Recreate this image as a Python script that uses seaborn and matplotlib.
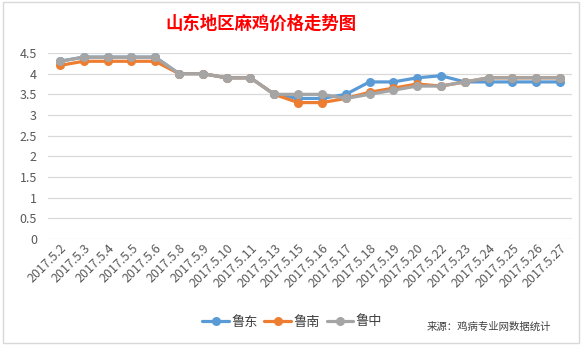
import matplotlib
matplotlib.use("Agg")
import matplotlib.pyplot as plt
import seaborn as sns
import pandas as pd
from matplotlib.patches import Rectangle

dates = ["2017.5.2", "2017.5.3", "2017.5.4", "2017.5.5", "2017.5.6", "2017.5.8",
         "2017.5.9", "2017.5.10", "2017.5.11", "2017.5.13", "2017.5.15", "2017.5.16",
         "2017.5.17", "2017.5.18", "2017.5.19", "2017.5.20", "2017.5.22", "2017.5.23",
         "2017.5.24", "2017.5.25", "2017.5.26", "2017.5.27"]
ludong = [4.3, 4.4, 4.4, 4.4, 4.4, 4.0, 4.0, 3.9, 3.9, 3.5, 3.4, 3.4, 3.5, 3.8,
          3.8, 3.9, 3.95, 3.8, 3.8, 3.8, 3.8, 3.8]
lunan = [4.2, 4.3, 4.3, 4.3, 4.3, 4.0, 4.0, 3.9, 3.9, 3.5, 3.3, 3.3, 3.4, 3.55,
         3.65, 3.75, 3.7, 3.8, 3.9, 3.9, 3.9, 3.9]
luzhong = [4.3, 4.4, 4.4, 4.4, 4.4, 4.0, 4.0, 3.9, 3.9, 3.5, 3.5, 3.5, 3.4, 3.5,
           3.6, 3.7, 3.7, 3.8, 3.9, 3.9, 3.9, 3.9]
series_names = ["鲁东", "鲁南", "鲁中"]
colors = ["#5B9BD5", "#ED7D31", "#A5A5A5"]
yticks = [0, 0.5, 1, 1.5, 2, 2.5, 3, 3.5, 4, 4.5]
ytick_labels = ["0", "0.5", "1", "1.5", "2", "2.5", "3", "3.5", "4", "4.5"]

rows = []
for name, vals in zip(series_names, [ludong, lunan, luzhong]):
    for i, v in enumerate(vals):
        rows.append({"idx": i, "value": v, "series": name})
df = pd.DataFrame(rows)

sns.set_theme(style="white")
plt.rcParams["font.family"] = ["Noto Sans CJK SC", "DejaVu Sans"]

fig = plt.figure(figsize=(5.88, 3.45), dpi=100)
fig.patch.set_facecolor("white")
ax = fig.add_axes([48/588, 1-239/345, (572-48)/588, (239-53)/345])

sns.lineplot(data=df, x="idx", y="value", hue="series", palette=colors,
             hue_order=series_names, marker="o", markersize=6.5, markeredgewidth=0,
             linewidth=2.3, sort=False, ax=ax, legend=True)

ax.set_xlim(-0.5, len(dates) - 0.5)
ax.set_ylim(0, 4.5)
ax.set_yticks(yticks)
ax.set_yticklabels(ytick_labels)
ax.set_xticks(range(len(dates)))
ax.set_xticklabels(dates, rotation=45, ha="right", rotation_mode="anchor")
ax.tick_params(axis="x", length=0, pad=2, labelsize=9, colors="#595959")
ax.tick_params(axis="y", length=0, pad=8, labelsize=9, colors="#595959")
ax.grid(axis="y", color="#D9D9D9", linewidth=0.9)
ax.set_axisbelow(True)
for s in ax.spines.values():
    s.set_visible(False)
ax.set_xlabel("")
ax.set_ylabel("")

handles, labels = ax.get_legend_handles_labels()
ax.legend_.remove()
fig.legend(handles, labels, loc="center", bbox_to_anchor=(0.497, 1-322/345),
           ncol=3, frameon=False, fontsize=9.5, handlelength=2.0, columnspacing=0.5,
           handletextpad=0.2, labelcolor="#404040")

fig.text(261/588, 1-24/345, "山东地区麻鸡价格走势图", color="#FF0000", fontsize=12.5,
         ha="center", va="center", fontweight="bold")
fig.text(427/588, 1-327/345, "来源：鸡病专业网数据统计", color="#404040", fontsize=7.5,
         ha="left", va="center")

fig.add_artist(Rectangle((3/588, 2/345), 576/588, 341/345, transform=fig.transFigure,
                         fill=False, edgecolor="#D9D9D9", linewidth=1))

fig.savefig("out.png", dpi=100, facecolor="white")
